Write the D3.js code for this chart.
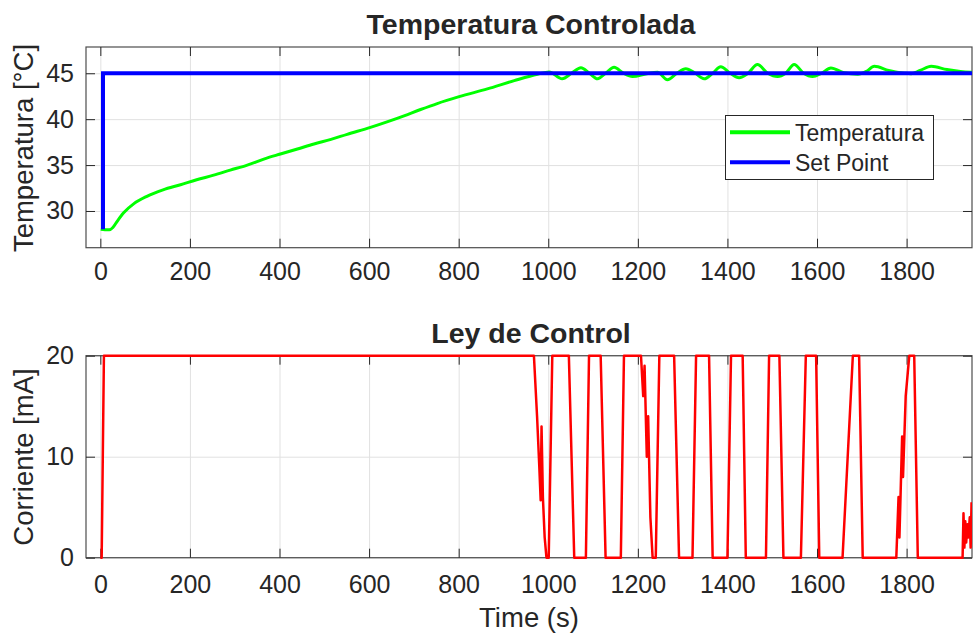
<!DOCTYPE html>
<html>
<head>
<meta charset="utf-8">
<script src="https://cdn.jsdelivr.net/npm/d3@7"></script>
<style>
  body { margin: 0; background: #fff; }
  text { font-family: "Liberation Sans", Arial, sans-serif; fill: #262626; }
</style>
</head>
<body>
<script>

// tick labels
var xTicks = [0, 200, 400, 600, 800, 1000, 1200, 1400, 1600, 1800];
var tempTicks = [30, 35, 40, 45];
var currTicks = [0, 10, 20];

// Temperatura (green)
var tempT = [1, 10, 20, 28, 38, 52, 75, 104, 140, 179, 215, 253, 290, 328, 365, 402, 440, 477, 515, 551,
             603, 640, 678, 715, 752, 801, 864, 924, 976, 1002, 1031, 1052, 1073, 1092, 1110, 1128, 1147, 1168, 1188, 1220,
             1244, 1266, 1287, 1307, 1328, 1348, 1367, 1385, 1406, 1426, 1446, 1467, 1490, 1512, 1530, 1549, 1570, 1590, 1610, 1631,
             1660, 1691, 1710, 1728, 1760, 1795, 1810, 1830, 1855, 1890, 1920, 1948];
var tempV = [28.0, 27.95, 27.95, 28.2, 28.9, 29.8, 30.8, 31.6, 32.3, 32.86, 33.4, 33.9, 34.45, 35.0, 35.65, 36.2, 36.75, 37.3, 37.8, 38.35,
             39.1, 39.7, 40.36, 41.05, 41.7, 42.45, 43.3, 44.2, 44.9, 45.15, 44.4, 45.0, 45.6, 45.0, 44.4, 45.0, 45.65, 45.0, 44.64, 44.95,
             45.1, 44.3, 45.0, 45.5, 45.0, 44.4, 45.0, 45.7, 45.0, 44.5, 45.0, 45.95, 45.0, 44.64, 45.0, 45.95, 45.0, 44.64, 45.0, 45.58,
             45.05, 44.9, 45.2, 45.76, 45.3, 45.0, 44.95, 45.3, 45.76, 45.4, 45.2, 45.1];

// Set Point (blue)
var spT = [6, 6, 1950];
var spV = [28, 45, 45];

// Ley de Control (red)
var ctrlT = [0, 3, 8, 968, 975, 980, 983, 985, 988, 992, 996, 1001, 1009, 1046, 1058, 1084, 1091, 1117, 1128, 1162,
             1169, 1207, 1212, 1215, 1220, 1223, 1228, 1233, 1240, 1248, 1281, 1292, 1322, 1330, 1359, 1367, 1400, 1408, 1434, 1441,
             1486, 1493, 1516, 1525, 1564, 1575, 1598, 1605, 1657, 1680, 1694, 1702, 1777, 1782, 1784, 1790, 1792, 1798, 1806, 1817,
             1825, 1925, 1927, 1929, 1931, 1933, 1936, 1938, 1941, 1943, 1945];
var ctrlV = [0, 0, 20, 20, 14, 9, 5.7, 13, 6, 2, 0, 0, 20, 20, 0, 0, 20, 20, 0, 0,
             20, 20, 16, 19, 10, 14, 4, 0, 0, 20, 20, 0, 0, 20, 20, 0, 0, 20, 20, 0,
             0, 20, 20, 0, 0, 20, 20, 0, 0, 20, 20, 0, 0, 6, 2, 12, 8, 16, 20, 20,
             0, 0, 4.4, 1, 3.6, 1.5, 3.3, 2, 4, 1, 5.5];

var width = 973, height = 637;
var left = 86, right = 972;

var svg = d3.select("body")
  .append("svg")
  .attr("width", width)
  .attr("height", height);

var x = d3.scaleLinear()
  .domain([-32, 1946])
  .range([left, right]);

function zip(a, b) {
  return a.map(function(d, i) { return [d, b[i]]; });
}

function panel(top, bottom, yDomain, yTicks, id, xPad) {
  var y = d3.scaleLinear().domain(yDomain).range([bottom, top]);
  var h = bottom - top;
  var g = svg.append("g");

  // grid
  g.append("g")
    .attr("transform", `translate(0,${bottom})`)
    .call(d3.axisBottom(x).tickValues(xTicks).tickSize(-h).tickFormat(""))
    .call(function(s) { s.select(".domain").remove(); })
    .selectAll("line").attr("stroke", "#e1e1e1");
  g.append("g")
    .attr("transform", `translate(${left},0)`)
    .call(d3.axisLeft(y).tickValues(yTicks).tickSize(-(right - left)).tickFormat(""))
    .call(function(s) { s.select(".domain").remove(); })
    .selectAll("line").attr("stroke", "#e1e1e1");

  // box
  g.append("rect")
    .attr("x", left).attr("y", top)
    .attr("width", right - left).attr("height", h)
    .attr("fill", "none")
    .attr("stroke", "#4d4d4d")
    .attr("stroke-width", 1.2);

  // ticks pointing inward on all four sides
  var ticks = g.append("g");
  var xb = ticks.append("g")
    .attr("transform", `translate(0,${bottom})`)
    .call(d3.axisBottom(x).tickValues(xTicks).tickSize(-9).tickPadding(xPad).tickFormat(d3.format("d")));
  ticks.append("g")
    .attr("transform", `translate(0,${top})`)
    .call(d3.axisTop(x).tickValues(xTicks).tickSize(-9).tickFormat(""));
  var yl = ticks.append("g")
    .attr("transform", `translate(${left},0)`)
    .call(d3.axisLeft(y).tickValues(yTicks).tickSize(-9).tickPadding(12));
  ticks.append("g")
    .attr("transform", `translate(${right},0)`)
    .call(d3.axisRight(y).tickValues(yTicks).tickSize(-9).tickFormat(""));

  ticks.selectAll(".domain").remove();
  ticks.selectAll(".tick line").attr("stroke", "#262626");
  [xb, yl].forEach(function(a) {
    a.selectAll("text")
      .style("font-size", "25px")
      .attr("fill", "#262626");
  });

  svg.append("clipPath").attr("id", id)
    .append("rect")
    .attr("x", left).attr("y", top - 4)
    .attr("width", right - left).attr("height", h + 8);

  return { y: y, g: g, clip: "url(#" + id + ")" };
}

// top panel
var p1 = panel(47, 247.7, [26.0, 47.86], tempTicks, "clipTop", 15);

var line1 = d3.line()
  .x(function(d) { return x(d[0]); })
  .y(function(d) { return p1.y(d[1]); })
  .curve(d3.curveMonotoneX);

svg.append("path")
  .datum(zip(tempT, tempV))
  .attr("d", line1)
  .attr("clip-path", p1.clip)
  .attr("fill", "none")
  .attr("stroke", "#00ff00")
  .attr("stroke-width", 3);

svg.append("path")
  .datum(zip(spT, spV))
  .attr("d", line1.curve(d3.curveLinear))
  .attr("clip-path", p1.clip)
  .attr("fill", "none")
  .attr("stroke", "#0000ff")
  .attr("stroke-width", 4);

// bottom panel
var p2 = panel(355.7, 557.7, [0, 20], currTicks, "clipBot", 18);

var line2 = d3.line()
  .x(function(d) { return x(d[0]); })
  .y(function(d) { return p2.y(d[1]); });

svg.append("path")
  .datum(zip(ctrlT, ctrlV))
  .attr("d", line2)
  .attr("clip-path", p2.clip)
  .attr("fill", "none")
  .attr("stroke", "#ff0000")
  .attr("stroke-width", 2.5)
  .attr("stroke-linejoin", "round");

// legend
var legend = svg.append("g");
legend.append("rect")
  .attr("x", 725.5).attr("y", 115.5)
  .attr("width", 208).attr("height", 64)
  .attr("fill", "#fff")
  .attr("stroke", "#262626")
  .attr("stroke-width", 1);
var items = [["Temperatura", "#00ff00"], ["Set Point", "#0000ff"]];
items.forEach(function(it, i) {
  var ly = 132.3 + i * 30;
  legend.append("line")
    .attr("x1", 730).attr("x2", 790)
    .attr("y1", ly).attr("y2", ly)
    .attr("stroke", it[1])
    .attr("stroke-width", 4);
  legend.append("text")
    .attr("x", 795).attr("y", ly + 8.5)
    .style("font-size", "23px")
    .text(it[0]);
});

// titles and labels
svg.append("text")
  .attr("x", (left + right) / 2 + 2).attr("y", 34)
  .attr("text-anchor", "middle")
  .style("font-size", "28.5px").style("font-weight", "bold")
  .attr("fill", "#000")
  .text("Temperatura Controlada");

svg.append("text")
  .attr("x", (left + right) / 2 + 2).attr("y", 343)
  .attr("text-anchor", "middle")
  .style("font-size", "28.5px").style("font-weight", "bold")
  .attr("fill", "#000")
  .text("Ley de Control");

svg.append("text")
  .attr("transform", "translate(33,148) rotate(-90)")
  .attr("text-anchor", "middle")
  .style("font-size", "27.5px")
  .text("Temperatura [°C]");

svg.append("text")
  .attr("transform", "translate(33,457) rotate(-90)")
  .attr("text-anchor", "middle")
  .style("font-size", "27.5px")
  .text("Corriente [mA]");

svg.append("text")
  .attr("x", (left + right) / 2).attr("y", 627)
  .attr("text-anchor", "middle")
  .style("font-size", "27.5px")
  .text("Time (s)");

</script>
</body>
</html>
